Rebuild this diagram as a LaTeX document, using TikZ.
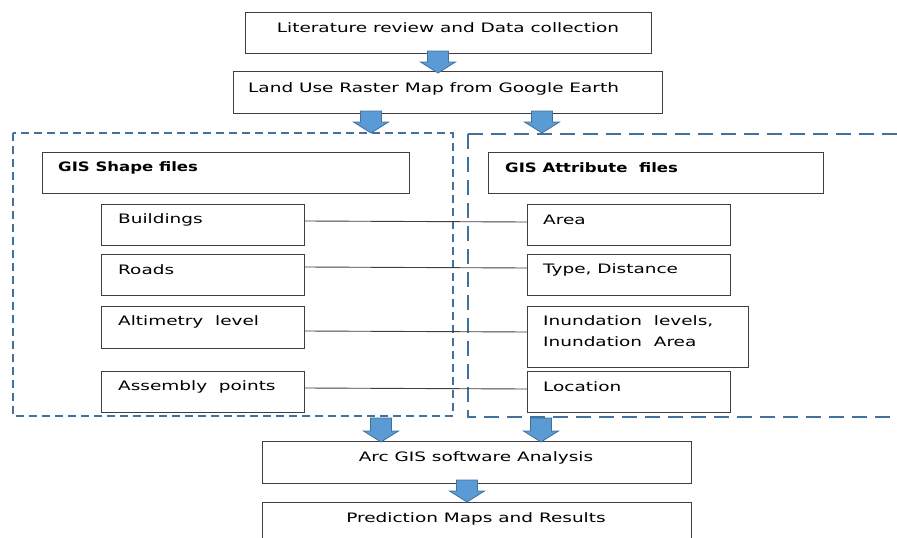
\documentclass[tikz,border=0pt]{standalone}
\usepackage{fontspec}
\setmainfont[FakeStretch=1.42, BoldFeatures={FakeStretch=1.27}]{DejaVu Sans}
\definecolor{boxgray}{HTML}{3F3F3F}
\definecolor{dashblue}{HTML}{41719C}
\definecolor{arrowfill}{HTML}{5B9BD5}
\newcommand{\blockarrow}[4]{% name, x, ytop, ytip
  \path[fill=arrowfill, draw=dashblue, line width=0.8pt]
    (#2-10.5,#3) -- (#2+10.5,#3) -- (#2+10.5,#4-11) -- (#2+17.5,#4-11) -- (#2,#4)
    -- (#2-17.5,#4-11) -- (#2-10.5,#4-11) -- cycle;
  \coordinate (#1) at (#2,#4);}
\begin{document}
\begin{tikzpicture}[x=1pt,y=-1pt,
  box/.style={draw=boxgray, line width=1.1pt, inner sep=0pt, anchor=north west, fill=white},
  txt/.style={anchor=west, inner sep=0pt, yshift=-1.5pt, font=\fontsize{13}{20}\selectfont},
  btxt/.style={txt, font=\fontsize{13}{20}\selectfont\bfseries},
  ctxt/.style={txt, anchor=center},
  link/.style={draw=boxgray, line width=0.9pt},
  thindash/.style={draw=dashblue, line width=1.4pt, dash pattern=on 8pt off 5pt},
  thickdash/.style={draw=dashblue, line width=2.6pt, dash pattern=on 15pt off 8pt}]
\clip (0,0) rectangle (897,538);
% dashed groups
\draw[thindash] (13,133) rectangle (453,416);
\draw[thickdash] (468,134) -- (468,417) -- (905,417);
\draw[thickdash] (468,134) -- (905,134);
% top boxes
\node[box, minimum width=406pt, minimum height=41pt] (lit) at (245,12) {};
\node[ctxt] (litT) at (448,26) {Literature review and Data collection};
\node[box, minimum width=429pt, minimum height=42pt] (land) at (233,71) {};
\node[txt] (landT) at (248,87) {Land Use Raster Map from Google Earth};
% group headers
\node[box, minimum width=367pt, minimum height=41pt] (shp) at (42,152) {};
\node[btxt] (shpT) at (58,166) {GIS Shape files};
\node[box, minimum width=335pt, minimum height=41pt] (att) at (488,152) {};
\node[btxt] (attT) at (505,166) {GIS Attribute\ \ files};
% left items
\node[box, minimum width=203pt, minimum height=41pt] (bld) at (101,204) {};
\node[txt] (bldT) at (118,218) {Buildings};
\node[box, minimum width=203pt, minimum height=41pt] (rd) at (101,254) {};
\node[txt] (rdT) at (118,268) {Roads};
\node[box, minimum width=203pt, minimum height=42pt] (alt) at (101,306) {};
\node[txt] (altT) at (118,320) {Altimetry\ \ level};
\node[box, minimum width=203pt, minimum height=41pt] (asm) at (101,371) {};
\node[txt] (asmT) at (118,385) {Assembly\ \ points};
% right items
\node[box, minimum width=203pt, minimum height=41pt] (area) at (527,204) {};
\node[txt] (areaT) at (543,218) {Area};
\node[box, minimum width=203pt, minimum height=41pt] (typ) at (527,254) {};
\node[txt] (typT) at (543,268) {Type, Distance};
\node[box, minimum width=221pt, minimum height=61pt] (inu) at (527,306) {};
\node[txt] (inuT1) at (543,320) {Inundation\ \ levels,};
\node[txt] (inuT2) at (543,340) {Inundation\ \ Area};
\node[box, minimum width=203pt, minimum height=41pt] (loc) at (527,371) {};
\node[txt] (locT) at (543,385) {Location};
% links
\draw[link] (bld.east |- 0,221) -- (area.west |- 0,222);
\draw[link] (rd.east |- 0,267) -- (typ.west |- 0,268);
\draw[link] (alt.east |- 0,331) -- (inu.west |- 0,332);
\draw[link] (asm.east |- 0,388) -- (loc.west |- 0,389);
% bottom boxes
\node[box, minimum width=429pt, minimum height=42pt] (arc) at (262,441) {};
\node[ctxt] (arcT) at (476,456) {Arc GIS software Analysis};
\node[box, minimum width=429pt, minimum height=50pt] (pred) at (262,502) {};
\node[ctxt] (predT) at (476,517) {Prediction Maps and Results};
% block arrows
\blockarrow{a1}{438}{51}{73}
\blockarrow{a2}{371}{111}{133}
\blockarrow{a3}{542}{111}{133}
\blockarrow{a4}{381}{418}{442}
\blockarrow{a5}{541}{418}{442}
\blockarrow{a6}{467}{480}{502}
\end{tikzpicture}
\end{document}
